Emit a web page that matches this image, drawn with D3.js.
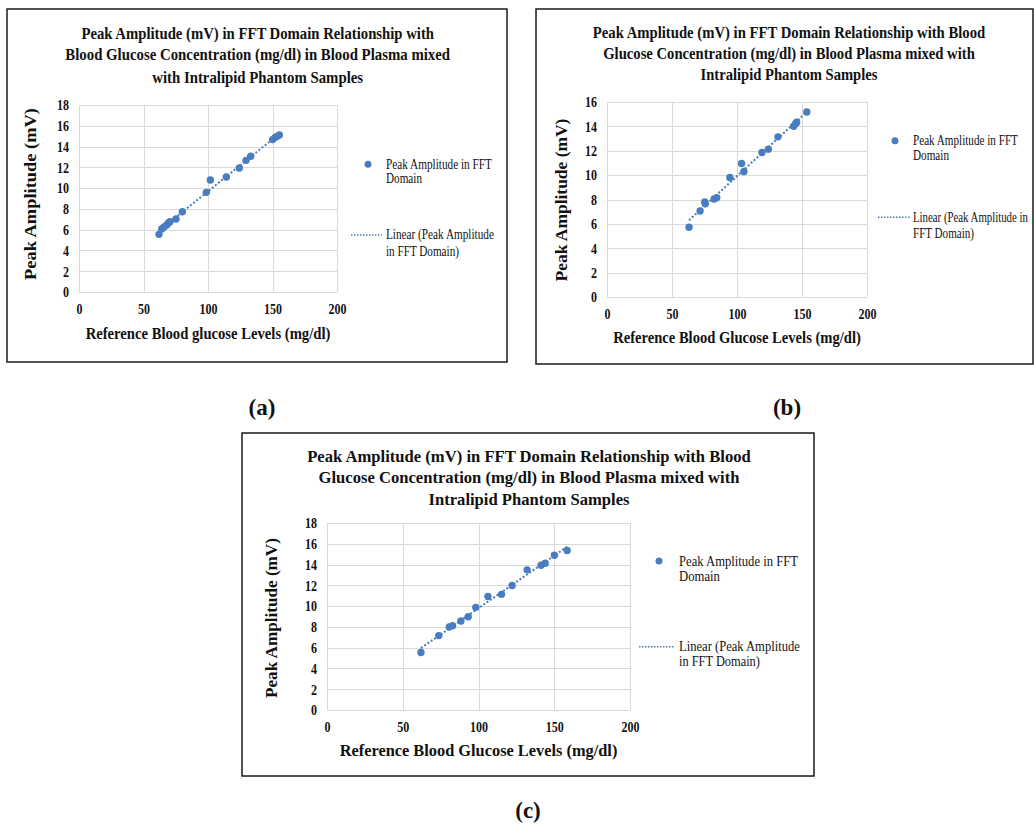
<!DOCTYPE html>
<html><head><meta charset="utf-8">
<script src="https://cdn.jsdelivr.net/npm/d3@7"></script>
<style>
body{margin:0;background:#fff}
svg{display:block}
text{font-family:"Liberation Serif","Times New Roman",serif;fill:#111}
</style>
</head><body>
<svg id="chart" width="1034" height="831"></svg>
<script>
// ---------- data ----------
const glucoseA   = [62.0, 64.1, 65.9, 68.0, 69.5, 70.5, 75.2, 80.1, 98.7, 101.8, 114.2, 124.3, 129.5, 133.1, 150.1, 151.9, 153.5, 155.3];
const amplitudeA = [5.55, 6.06, 6.26, 6.45, 6.67, 6.77, 7.03, 7.73, 9.59, 10.78, 11.07, 11.94, 12.67, 13.06, 14.67, 14.86, 14.98, 15.11];

const glucoseB   = [63.1, 71.6, 75.2, 75.6, 82.4, 84.4, 94.5, 103.5, 105.3, 119.2, 124.1, 131.5, 143.6, 145.2, 145.9, 153.7];
const amplitudeB = [5.72, 7.06, 7.80, 7.65, 8.04, 8.15, 9.81, 10.96, 10.30, 11.86, 12.13, 13.14, 14.01, 14.23, 14.34, 15.18];

const glucoseC   = [62.0, 73.8, 80.7, 82.9, 88.4, 93.2, 98.2, 106.2, 115.2, 122.2, 132.1, 141.3, 144.0, 150.1, 158.5];
const amplitudeC = [5.53, 7.16, 7.99, 8.12, 8.57, 8.98, 9.88, 10.93, 11.13, 11.99, 13.49, 13.94, 14.13, 14.90, 15.35];

const xTicks  = [0, 50, 100, 150, 200];
const yTicksA = [0, 2, 4, 6, 8, 10, 12, 14, 16, 18];
const yTicksB = [0, 2, 4, 6, 8, 10, 12, 14, 16];
const yTicksC = [0, 2, 4, 6, 8, 10, 12, 14, 16, 18];

const titleLinesA = ["Peak Amplitude (mV) in FFT Domain Relationship with",
                     "Blood Glucose Concentration (mg/dl) in Blood Plasma mixed",
                     "with Intralipid Phantom Samples"];
const titleLinesB = ["Peak Amplitude (mV) in FFT Domain Relationship with Blood",
                     "Glucose Concentration (mg/dl) in Blood Plasma mixed with",
                     "Intralipid Phantom Samples"];
const titleLinesC = titleLinesB;

const xLabelA = "Reference Blood glucose Levels (mg/dl)";
const xLabelB = "Reference Blood Glucose Levels (mg/dl)";
const yLabel  = "Peak Amplitude (mV)";
const legendPointLines = ["Peak Amplitude in FFT", "Domain"];
const legendLineA = ["Linear (Peak Amplitude", "in FFT Domain)"];
const legendLineB = ["Linear (Peak Amplitude in", "FFT Domain)"];
const panelLabels = ["(a)", "(b)", "(c)"];

// ---------- layout ----------
const BLUE = "#4a7dbf";
const GRID = "#d9d9d9";

const panels = [
  {xs: glucoseA, ys: amplitudeA, yTicks: yTicksA, title: titleLinesA, xLab: xLabelA, legLine: legendLineA, label: panelLabels[0],
   frame: [7, 9, 507, 362], plot: {l: 79, r: 337, t: 105, b: 292},
   titleX: 257.7, titleY: [32.7, 54.3, 76.7], titleW: [353, 385, 211],
   xLabY: 333, xLabW: 245, yLabX: 30, yLabY: 194, yLabW: 172,
   legM: [368, 164.3], legTX: 386, legT1Y: [164.3, 179], legT1W: [106, 36],
   legL: [351, 382, 235], legT2Y: [235, 251.5], legT2W: [108, 73], labelPos: [262, 407]},
  {xs: glucoseB, ys: amplitudeB, yTicks: yTicksB, title: titleLinesB, xLab: xLabelB, legLine: legendLineB, label: panelLabels[1],
   frame: [536, 9, 1033, 364], plot: {l: 607, r: 867, t: 102, b: 297},
   titleX: 789, titleY: [31.7, 52.7, 74.3], titleW: [393, 372, 177],
   xLabY: 336.7, xLabW: 248, yLabX: 562, yLabY: 200, yLabW: 163,
   legM: [895, 140.7], legTX: 913, legT1Y: [140.7, 155.7], legT1W: [105, 36],
   legL: [878, 910, 217.3], legT2Y: [217.3, 233.3], legT2W: [115, 61], labelPos: [787, 407]},
  {xs: glucoseC, ys: amplitudeC, yTicks: yTicksC, title: titleLinesC, xLab: xLabelB, legLine: legendLineA, label: panelLabels[2],
   frame: [242, 433, 814, 776], plot: {l: 327, r: 630, t: 523, b: 710},
   titleX: 529, titleY: [456, 477, 499], titleW: [444, 421, 201],
   xLabY: 750, xLabW: 278, yLabX: 271.5, yLabY: 618, yLabW: 160,
   legM: [659, 561], legTX: 679, legT1Y: [561, 576], legT1W: [119, 41],
   legL: [639, 675, 646.7], legT2Y: [646.7, 661], legT2W: [121, 81], labelPos: [528, 810]}
];

const svg = d3.select("#chart");

// place a text at (x,y), squeezed horizontally to width w
function placeText(parent, str, x, y, w, opts) {
  const o = Object.assign({size: 14, weight: "normal", anchor: "start", rotate: 0}, opts || {});
  const t = parent.append("text").attr("x", 0).attr("y", 0)
    .attr("text-anchor", o.anchor).attr("dominant-baseline", "central")
    .attr("font-size", o.size).attr("font-weight", o.weight).text(str);
  const nat = t.node().getComputedTextLength();
  const k = w / nat;
  t.attr("transform", `translate(${x},${y})` + (o.rotate ? ` rotate(${o.rotate})` : "") + ` scale(${k},1)`);
  return t;
}

panels.forEach(p => {
  const g = svg.append("g");
  const [fx0, fy0, fx1, fy1] = p.frame;
  g.append("rect").attr("x", fx0).attr("y", fy0).attr("width", fx1 - fx0).attr("height", fy1 - fy0)
    .attr("fill", "#fff").attr("stroke", "#1a1a1a").attr("stroke-width", 1.5);

  const x = d3.scaleLinear().domain([xTicks[0], xTicks[xTicks.length - 1]]).range([p.plot.l, p.plot.r]);
  const y = d3.scaleLinear().domain([p.yTicks[0], p.yTicks[p.yTicks.length - 1]]).range([p.plot.b, p.plot.t]);

  // gridlines
  g.append("g").selectAll("line").data(p.yTicks).join("line")
    .attr("x1", p.plot.l).attr("x2", p.plot.r)
    .attr("y1", d => Math.round(y(d)) + 0.5).attr("y2", d => Math.round(y(d)) + 0.5)
    .attr("stroke", GRID).attr("stroke-width", 1);
  g.append("g").selectAll("line").data(xTicks).join("line")
    .attr("y1", p.plot.t).attr("y2", p.plot.b)
    .attr("x1", d => Math.round(x(d)) + 0.5).attr("x2", d => Math.round(x(d)) + 0.5)
    .attr("stroke", GRID).attr("stroke-width", 1);

  // axes (labels only)
  const ax = g.append("g").attr("transform", `translate(0,${p.plot.b})`)
    .call(d3.axisBottom(x).tickValues(xTicks).tickSize(0).tickPadding(11));
  const ay = g.append("g").attr("transform", `translate(${p.plot.l},0)`)
    .call(d3.axisLeft(y).tickValues(p.yTicks).tickSize(0).tickPadding(10));
  [ax, ay].forEach(a => {
    a.attr("font-family", null);
    a.select(".domain").remove();
    a.selectAll("text").attr("font-family", '"Liberation Serif","Times New Roman",serif')
      .attr("font-size", 15).attr("font-weight", "bold").attr("fill", "#111")
      .each(function () {
        const w = this.getComputedTextLength();
        d3.select(this).attr("textLength", w * 0.8).attr("lengthAdjust", "spacingAndGlyphs");
      });
  });

  // title
  p.title.forEach((t, i) => placeText(g, t, p.titleX, p.titleY[i], p.titleW[i], {size: 17, weight: "bold", anchor: "middle"}));

  // axis titles
  placeText(g, p.xLab, (p.plot.l + p.plot.r) / 2, p.xLabY, p.xLabW, {size: 17, weight: "bold", anchor: "middle"});
  placeText(g, yLabel, p.yLabX, p.yLabY, p.yLabW, {size: 17, weight: "bold", anchor: "middle", rotate: -90});

  // linear trendline (least squares from the data)
  const n = p.xs.length;
  const mx = d3.mean(p.xs), my = d3.mean(p.ys);
  let sxy = 0, sxx = 0;
  for (let i = 0; i < n; i++) { sxy += (p.xs[i] - mx) * (p.ys[i] - my); sxx += (p.xs[i] - mx) ** 2; }
  const slope = sxy / sxx, icpt = my - slope * mx;
  const [xmin, xmax] = d3.extent(p.xs);
  g.append("line").attr("x1", x(xmin)).attr("y1", y(icpt + slope * xmin))
    .attr("x2", x(xmax)).attr("y2", y(icpt + slope * xmax))
    .attr("stroke", BLUE).attr("stroke-width", 2).attr("stroke-dasharray", "2,2");

  // points
  g.append("g").selectAll("circle").data(p.xs.map((v, i) => [v, p.ys[i]])).join("circle")
    .attr("cx", d => x(d[0])).attr("cy", d => y(d[1])).attr("r", 3.7).attr("fill", BLUE);

  // legend
  g.append("circle").attr("cx", p.legM[0]).attr("cy", p.legM[1]).attr("r", 3.5).attr("fill", BLUE);
  legendPointLines.forEach((t, i) => placeText(g, t, p.legTX, p.legT1Y[i], p.legT1W[i], {size: 14}));
  g.append("line").attr("x1", p.legL[0]).attr("x2", p.legL[1]).attr("y1", p.legL[2]).attr("y2", p.legL[2])
    .attr("stroke", BLUE).attr("stroke-width", 1.5).attr("stroke-dasharray", "1.5,1.5");
  p.legLine.forEach((t, i) => placeText(g, t, p.legTX, p.legT2Y[i], p.legT2W[i], {size: 14}));

  // panel label
  svg.append("text").attr("x", p.labelPos[0]).attr("y", p.labelPos[1]).attr("text-anchor", "middle")
    .attr("dominant-baseline", "central").attr("font-size", 23).attr("font-weight", "bold")
    .attr("fill", "#000").text(p.label);
});
</script>
</body></html>
